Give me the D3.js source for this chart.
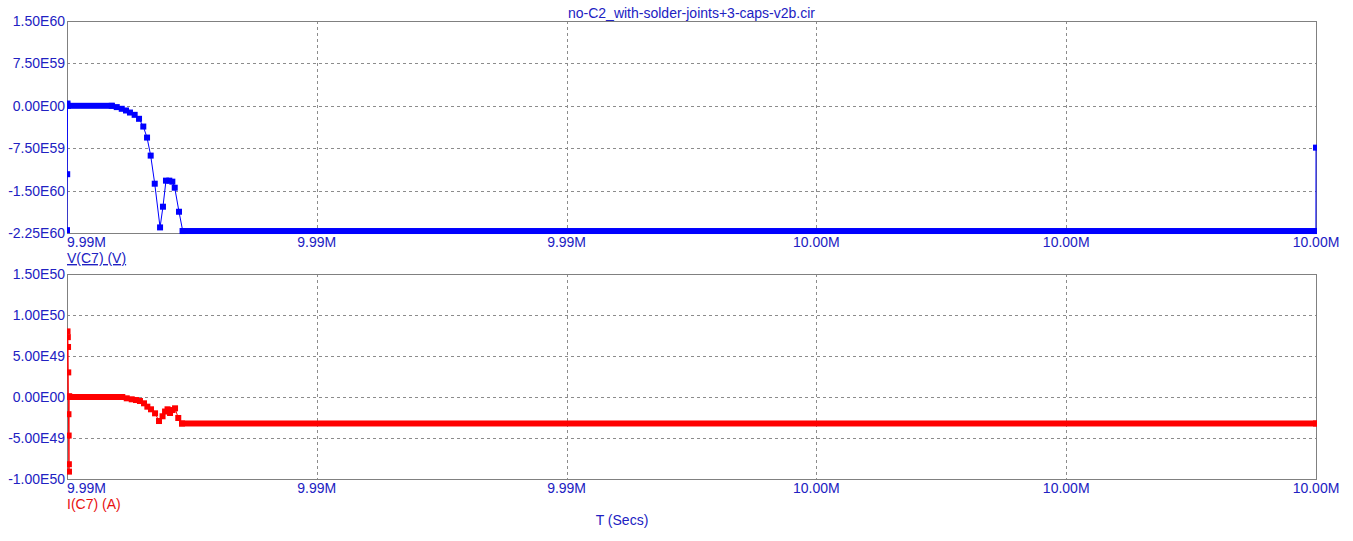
<!DOCTYPE html>
<html>
<head>
<meta charset="utf-8">
<script src="https://cdn.jsdelivr.net/npm/d3@7"></script>
<style>
  body { margin: 0; background: #fff; }
  text { font-family: "Liberation Sans", Arial, sans-serif; font-size: 14px; }
</style>
</head>
<body>
<script>
// Title and axis names
const chartTitle = "no-C2_with-solder-joints+3-caps-v2b.cir";
const xName = "T (Secs)";

// Shared time axis (seconds)
const xDomain = [9.988e6, 10.0e6];
const xTicks = [9.988e6, 9.9904e6, 9.9928e6, 9.9952e6, 9.9976e6, 10.0e6];

// V(C7) trace
const vTicks = [1.5e60, 7.5e59, 0, -7.5e59, -1.5e60, -2.25e60];
const vTimes = [9988000, 9988002, 9988005, 9988010, 9988430, 9988478, 9988526, 9988567, 9988605,
  9988650, 9988692, 9988733, 9988769, 9988804, 9988843, 9988894, 9988922, 9988951,
  9988983, 9989012, 9989035, 9989076, 9989112, 9999999, 10000000];
const vValues = [-2.20e60, -1.21e60, 0.04e60, 0, 0, -0.023e60, -0.053e60, -0.083e60, -0.119e60,
  -0.160e60, -0.230e60, -0.367e60, -0.562e60, -0.881e60, -1.378e60, -2.151e60, -1.785e60, -1.324e60,
  -1.324e60, -1.342e60, -1.449e60, -1.874e60, -2.215e60, -2.215e60, -0.74e60];
// stretches where the sample markers run together: [from, to, value]
const vBands = [[9988010, 9988430, 0], [9989112, 10000000, -2.215e60]];

// I(C7) trace
const iTicks = [1.5e50, 1.0e50, 5.0e49, 0, -5.0e49, -1.0e50];
const iTimes = [9988000, 9988005, 9988008, 9988010, 9988012, 9988014, 9988016, 9988018, 9988019,
  9988021, 9988530, 9988574, 9988622, 9988663, 9988701, 9988740, 9988772, 9988807, 9988846,
  9988884, 9988918, 9988942, 9988966, 9988990, 9989014, 9989038, 9989069, 9989105, 10000000];
const iValues = [0, 0.80e50, 0.73e50, 0.61e50, 0.30e50, -0.21e50, -0.47e50, -0.82e50, -0.91e50,
  0.01e50, 0, -0.016e50, -0.028e50, -0.037e50, -0.049e50, -0.077e50, -0.118e50, -0.150e50, -0.199e50,
  -0.293e50, -0.235e50, -0.177e50, -0.150e50, -0.195e50, -0.159e50, -0.138e50, -0.256e50, -0.323e50, -0.323e50];
const iBands = [[9988010, 9988530, 0], [9989105, 10000000, -0.323e50]];

const width = 1353, height = 541;
const left = 67, right = 1316;
const textBlue = "#2121c2";
const gridColor = "#8c8c8c";
const markerSize = 6;

const panels = [
  { name: "V(C7) (V)", top: 21, bottom: 233, ticks: vTicks, times: vTimes, values: vValues,
    bands: vBands, color: "#0000ff", nameColor: textBlue, underline: true },
  { name: "I(C7) (A)", top: 274, bottom: 479, ticks: iTicks, times: iTimes, values: iValues,
    bands: iBands, color: "#ff0000", nameColor: "#e81010", underline: false }
];

const fmtY = v => {
  // 1.50E60 style
  const [m, e] = v.toExponential(2).split("e");
  const n = Math.abs(+e);
  return m + "E" + (+e < 0 ? "-" : "") + String(n).padStart(2, "0");
};
const fmtX = t => (t / 1e6).toFixed(2) + "M";
const crisp = v => Math.round(v) + 0.5;

const svg = d3.select("body").append("svg")
  .attr("width", width)
  .attr("height", height)
  .style("display", "block");

const x = d3.scaleLinear().domain(xDomain).range([left, right]);

svg.append("defs").append("clipPath")
  .attr("id", "plotclip")
  .append("rect")
  .attr("x", left).attr("y", 0)
  .attr("width", right - left + 1).attr("height", height);

panels.forEach((p, pi) => {
  const y = d3.scaleLinear()
    .domain([p.ticks[p.ticks.length - 1], p.ticks[0]])
    .range([p.bottom, p.top]);

  const g = svg.append("g");

  // dashed grid
  g.selectAll(".vgrid")
    .data(xTicks.slice(1, -1))
    .join("line")
    .attr("x1", d => crisp(x(d))).attr("x2", d => crisp(x(d)))
    .attr("y1", p.top).attr("y2", p.bottom)
    .attr("stroke", gridColor)
    .attr("stroke-dasharray", "3,3");

  g.selectAll(".hgrid")
    .data(p.ticks.slice(1, -1))
    .join("line")
    .attr("x1", left).attr("x2", right)
    .attr("y1", d => crisp(y(d))).attr("y2", d => crisp(y(d)))
    .attr("stroke", gridColor)
    .attr("stroke-dasharray", "3,3");

  // frame
  g.append("rect")
    .attr("x", left + 0.5).attr("y", p.top + 0.5)
    .attr("width", right - left).attr("height", p.bottom - p.top)
    .attr("fill", "none")
    .attr("stroke", "#808080");

  // trace
  const pts = p.times.map((t, i) => [t, p.values[i]]);
  const tr = g.append("g").attr("clip-path", "url(#plotclip)");

  tr.append("path")
    .datum(pts)
    .attr("fill", "none")
    .attr("stroke", p.color)
    .attr("stroke-width", 1)
    .attr("d", d3.line().x(d => x(d[0])).y(d => y(d[1])));

  tr.selectAll(".band")
    .data(p.bands)
    .join("rect")
    .attr("x", d => x(d[0]) - markerSize / 2)
    .attr("width", d => x(d[1]) - x(d[0]) + markerSize)
    .attr("y", d => y(d[2]) - markerSize / 2)
    .attr("height", markerSize)
    .attr("fill", p.color);

  tr.selectAll(".marker")
    .data(pts)
    .join("rect")
    .attr("x", d => x(d[0]) - markerSize / 2)
    .attr("y", d => y(d[1]) - markerSize / 2)
    .attr("width", markerSize).attr("height", markerSize)
    .attr("fill", p.color);

  // y tick labels
  g.selectAll(".ylab")
    .data(p.ticks)
    .join("text")
    .attr("x", left - 2)
    .attr("y", d => y(d))
    .attr("dy", "0.35em")
    .attr("text-anchor", "end")
    .attr("fill", textBlue)
    .text(fmtY);

  // x tick labels
  g.selectAll(".xlab")
    .data(xTicks)
    .join("text")
    .attr("x", d => x(d))
    .attr("y", p.bottom + 14)
    .attr("text-anchor", (d, i) => i === 0 ? "start" : "middle")
    .attr("fill", textBlue)
    .text(fmtX);

  // trace name
  g.append("text")
    .attr("x", left)
    .attr("y", p.bottom + 30)
    .attr("fill", p.nameColor)
    .style("text-decoration", p.underline ? "underline" : null)
    .text(p.name);
});

svg.append("text")
  .attr("x", (left + right) / 2)
  .attr("y", 18)
  .attr("text-anchor", "middle")
  .attr("fill", textBlue)
  .text(chartTitle);

svg.append("text")
  .attr("x", 622)
  .attr("y", 525)
  .attr("text-anchor", "middle")
  .attr("fill", textBlue)
  .text(xName);
</script>
</body>
</html>
